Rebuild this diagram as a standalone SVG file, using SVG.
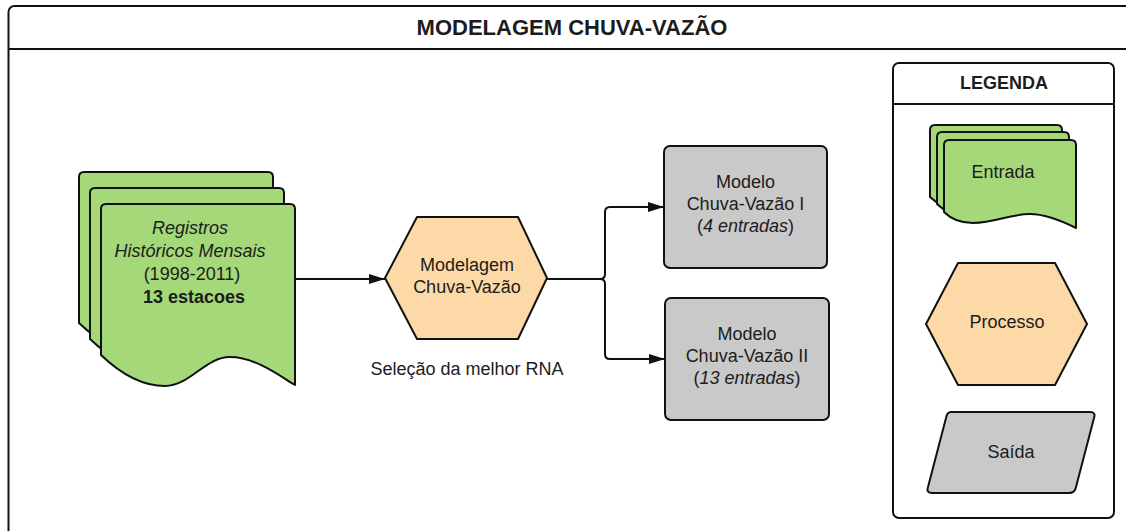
<svg xmlns="http://www.w3.org/2000/svg" width="1126" height="531" viewBox="0 0 1126 531">
  <style>
    .ln { fill: none; stroke: #111; stroke-width: 2; }
    .doc { fill: #a5d879; stroke: #111; stroke-width: 2; stroke-linejoin: round; }
    .proc { fill: #fcd9a6; stroke: #111; stroke-width: 2; stroke-linejoin: round; }
    .out { fill: #c9c9c9; stroke: #111; stroke-width: 2; stroke-linejoin: round; }
    .frame { fill: #fff; stroke: #111; stroke-width: 2; }
    text { font-family: "Liberation Sans", Arial, sans-serif; font-size: 18px; fill: #1c1c1c; text-anchor: middle; }
    .b { font-weight: bold; }
    .i { font-style: italic; }
  </style>
  <defs>
    <marker id="arrow" markerUnits="userSpaceOnUse" markerWidth="16" markerHeight="10" refX="16" refY="5" orient="auto">
      <path d="M0,0 L16,5 L0,10 Z" fill="#111"/>
    </marker>
    <path id="mainDoc" d="M0,151 V5 Q0,0 5,0 H189 Q194,0 194,5 V181 C179,172 154,153 129,153 C104,153 89,182 64,182 C44,182 24,174 0,151 Z"/>
    <path id="legDoc" d="M0,72 V5 Q0,0 5,0 H127 Q132,0 132,5 V88 C116,80 101,74 86,74 C66,74 51,83 29,83 C16,83 6,78 0,72 Z"/>
  </defs>

  <!-- outer frame with title band -->
  <g id="frame">
    <rect class="frame" x="8.5" y="6" width="1200" height="600" rx="6"/>
    <line class="ln" x1="8.5" y1="49" x2="1126" y2="49"/>
    <text class="b" x="572" y="35" style="font-size:22px">MODELAGEM CHUVA-VAZÃO</text>
  </g>

  <!-- connectors -->
  <g id="connectors">
    <path class="ln" d="M295,279 H385" marker-end="url(#arrow)"/>
    <path class="ln" d="M547,279 H600 Q605,279 605,274 V212 Q605,207 610,207 H664" marker-end="url(#arrow)"/>
    <path class="ln" d="M600,279 Q605,279 605,284 V354 Q605,359 610,359 H665" marker-end="url(#arrow)"/>
  </g>

  <!-- input: monthly historical records -->
  <g id="registros">
    <use href="#mainDoc" class="doc" transform="translate(79,172)"/>
    <use href="#mainDoc" class="doc" transform="translate(90,188)"/>
    <use href="#mainDoc" class="doc" transform="translate(101,204)"/>
    <text x="190" y="234" class="i">Registros</text>
    <text x="190" y="257" class="i">Históricos Mensais</text>
    <text x="192" y="280">(1998-2011)</text>
    <text x="194" y="303" class="b">13 estacoes</text>
  </g>

  <!-- process -->
  <g id="modelagem">
    <polygon class="proc" points="385,278 417,217 518,217 547,278 518,339 417,339"/>
    <text x="467" y="271">Modelagem</text>
    <text x="467" y="293">Chuva-Vazão</text>
    <text x="467" y="375">Seleção da melhor RNA</text>
  </g>

  <!-- outputs -->
  <g id="modelo1">
    <rect class="out" x="664" y="146" width="163" height="122" rx="6"/>
    <text x="745.5" y="188">Modelo</text>
    <text x="745.5" y="210">Chuva-Vazão I</text>
    <text x="745.5" y="232">(<tspan class="i">4 entradas</tspan>)</text>
  </g>
  <g id="modelo2">
    <rect class="out" x="665" y="298" width="164" height="122" rx="6"/>
    <text x="747" y="340">Modelo</text>
    <text x="747" y="362">Chuva-Vazão II</text>
    <text x="747" y="384">(<tspan class="i">13 entradas</tspan>)</text>
  </g>

  <!-- legend -->
  <g id="legenda">
    <rect class="frame" x="893" y="63" width="221" height="455" rx="6"/>
    <line class="ln" x1="893" y1="104" x2="1114" y2="104"/>
    <text class="b" x="1004" y="89">LEGENDA</text>
  </g>
  <g id="leg-entrada">
    <use href="#legDoc" class="doc" transform="translate(930,125)"/>
    <use href="#legDoc" class="doc" transform="translate(937,132)"/>
    <use href="#legDoc" class="doc" transform="translate(944,140)"/>
    <text x="1003" y="178">Entrada</text>
  </g>
  <g id="leg-processo">
    <polygon class="proc" points="926,324 958,263 1055,263 1087,324 1055,385 958,385"/>
    <text x="1007" y="328">Processo</text>
  </g>
  <g id="leg-saida">
    <path class="out" d="M951,412 H1090 Q1096,412 1094,418 L1076,487 Q1075,493 1069,493 H932 Q926,493 928,487 L946,418 Q947,412 951,412 Z"/>
    <text x="1011" y="458">Saída</text>
  </g>
</svg>
